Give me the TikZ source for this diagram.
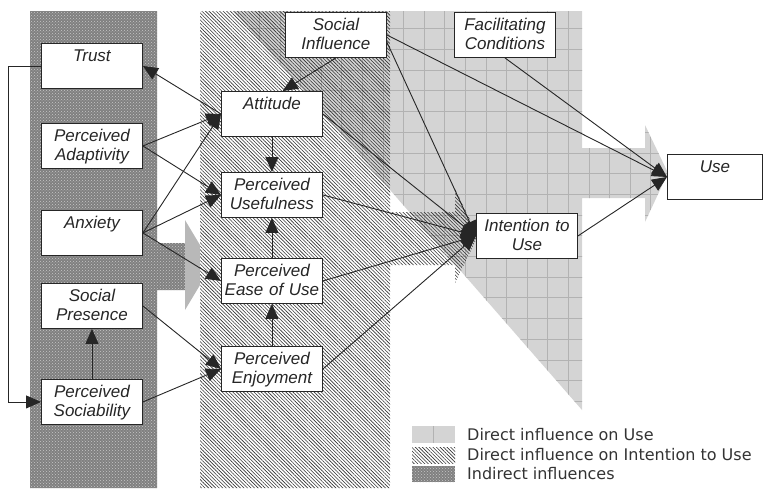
\documentclass[tikz,border=0pt]{standalone}
\usepackage{fontspec}
\usetikzlibrary{arrows.meta,patterns,patterns.meta}
\newfontfamily\boxfont{Liberation Sans}
\newfontfamily\legendfont{DejaVu Sans}
\colorlet{gridgray}{black!17}
\colorlet{gridink}{black!30}
\colorlet{inkgray}{black!85}

\begin{document}
\begin{tikzpicture}[x=1pt, y=-1pt,
		box/.style={draw=inkgray, fill=white, line width=0.9pt, anchor=north west,
			text=inkgray, font=\boxfont\itshape\fontsize{17pt}{19pt}\selectfont,
			text width=95pt, align=center, inner sep=3pt,
			text height=15.5pt, text depth=23.5pt},
		link/.style={draw=inkgray, line width=0.9pt, -{Triangle[length=15pt,width=13pt]}},
		legendtext/.style={anchor=base west, inner sep=0pt, text=black!80,
			font=\legendfont\fontsize{16pt}{18pt}\selectfont},
		hatch/.style={pattern={Lines[angle=-45,distance=2.5pt,line width=0.6pt]}, pattern color=black!80},
		stipple/.style={pattern=crosshatch dots, pattern color=black!22}]
		\useasboundingbox (0,0) rectangle (764,488);
		\def\stipplearea{(30,11) -- (157,11) -- (157,243) -- (185,243) -- (185,290) -- (157,290) -- (157,488) -- (30,488) -- cycle}
		\def\hatcharea{(200,11) -- (390,11) -- (390,212) -- (455,212) -- (455,189) -- (478,236) -- (455,283) -- (455,265) -- (390,265) -- (390,488) -- (200,488) -- cycle}
		\def\gridarea{(234,11) -- (582,11) -- (582,148) -- (645,148) -- (645,125) -- (668,173) -- (645,222) -- (645,198) -- (582,198) -- (582,410) -- cycle}
		\fill[black!50] \stipplearea;
		\path[stipple] \stipplearea;
		\fill[black!28] (185,220) -- (212,265) -- (185,310) -- cycle;
		\fill[white] \hatcharea;
		\fill[gridgray] \gridarea;
		\begin{scope}
			\clip \gridarea;
			\foreach \gx in {238.8,259.4,...,670}
				\draw[gridink, line width=0.8pt] (\gx,0) -- (\gx,420);
			\foreach \gy in {8,28.7,...,420}
				\draw[gridink, line width=0.8pt] (230,\gy) -- (670,\gy);
		\end{scope}
		\path[hatch] \hatcharea;
		% legend
		\fill[gridgray] (412,426) rectangle (455,443);
		\draw[gridink, line width=0.8pt] (433,426) -- (433,443);
		\path[hatch] (412,447) rectangle (455,463);
		\fill[black!50] (412,466) rectangle (455,482);
		\path[stipple] (412,466) rectangle (455,482);
		\node[legendtext] (keyuse) at (467,440) {Direct influence on Use};
		\node[legendtext] (keyintention) at (467,460) {Direct influence on Intention to Use};
		\node[legendtext] (keyindirect) at (467,479.5) {Indirect influences};
		% constructs
		\node[box] (trust) at (41,43) {Trust};
		\node[box] (adaptivity) at (41,123) {Perceived\\Adaptivity};
		\node[box] (anxiety) at (41,210) {Anxiety};
		\node[box] (presence) at (41,283) {Social\\Presence};
		\node[box] (sociability) at (41,379) {Perceived\\Sociability};
		\node[box] (attitude) at (221,91) {Attitude};
		\node[box] (usefulness) at (221,172) {Perceived\\Usefulness};
		\node[box] (easeofuse) at (221,258) {Perceived\\Ease of Use};
		\node[box] (enjoyment) at (221,346) {Perceived\\Enjoyment};
		\node[box] (influence) at (285,12) {Social\\Influence};
		\node[box] (conditions) at (454,12) {Facilitating\\Conditions};
		\node[box] (intention) at (476,213) {Intention to\\Use};
		\node[box, text width=89pt] (use) at (667,154) {Use};
		% influences
		\draw[link] (attitude.west) -- (trust.east);
		\draw[link] (adaptivity.east) -- (attitude.west);
		\draw[link] (adaptivity.east) -- (usefulness.west);
		\draw[link] (anxiety.east) -- (attitude.west);
		\draw[link] (anxiety.east) -- (usefulness.west);
		\draw[link] (anxiety.east) -- (easeofuse.west);
		\draw[link] (presence.east) -- (enjoyment.west);
		\draw[link] (sociability.east) -- (enjoyment.west);
		\draw[link] (sociability) -- (presence);
		\draw[link] (trust.west) -- ++(-33,0) |- (sociability.west);
		\draw[link] (attitude) -- (usefulness);
		\draw[link] (easeofuse) -- (usefulness);
		\draw[link] (enjoyment) -- (easeofuse);
		\draw[link] (influence.south) -- (attitude.65);
		\draw[link] (attitude.east) -- (intention.west);
		\draw[link] (usefulness.east) -- (intention.west);
		\draw[link] (easeofuse.east) -- (intention.west);
		\draw[link] (enjoyment.east) -- (intention.west);
		\draw[link] (influence.-8) -- (intention.west);
		\draw[link] (influence.east) -- (use.west);
		\draw[link] (conditions.south) -- (use.west);
		\draw[link] (intention.east) -- (use.west);
	\end{tikzpicture}
\end{document}
